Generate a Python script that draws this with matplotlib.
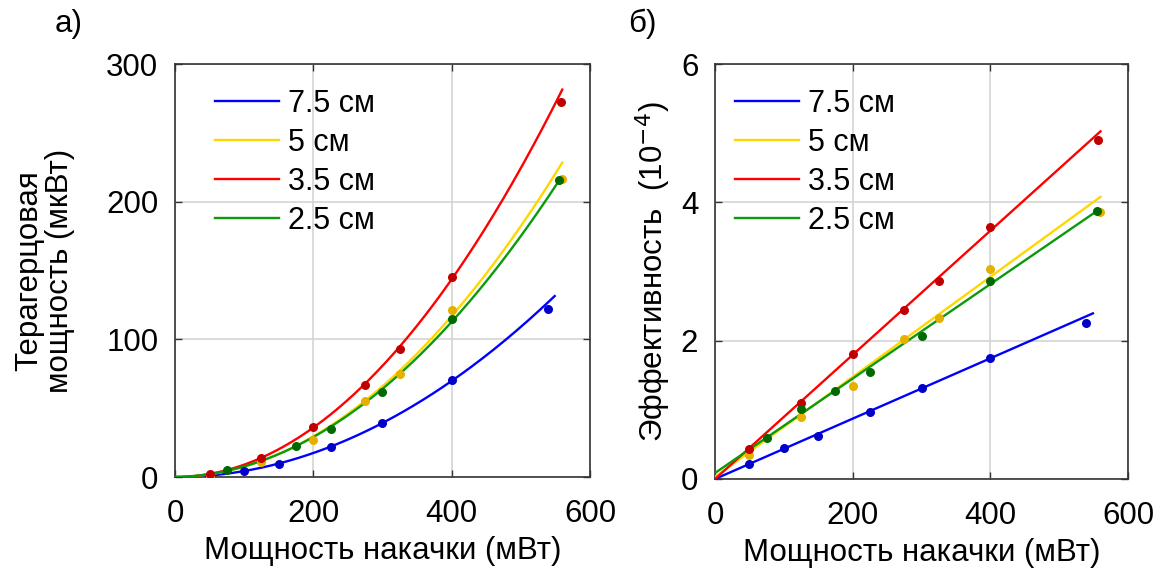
import numpy as np
import matplotlib.pyplot as plt

plt.rcParams["font.family"] = ["Liberation Sans", "DejaVu Sans"]

labels = ["7.5 см", "5 см", "3.5 см", "2.5 см"]
line_colors = ["#0000ff", "#ffd700", "#ff0000", "#0a9a0a"]
dot_colors = ["#0000c8", "#e6b000", "#c00000", "#006a00"]

# измеренная ТГц мощность (мкВт) от мощности накачки (мВт)
pump_75 = [50, 100, 150, 225, 300, 400, 539]
thz_75 = [0.5, 4.5, 9.5, 21.8, 39.5, 70.3, 122]
pump_5 = [50, 125, 200, 275, 325, 400, 560]
thz_5 = [1.0, 11, 27, 55.5, 75, 121, 216.5]
pump_35 = [50, 125, 200, 275, 325, 400, 558]
thz_35 = [2.4, 13.8, 36, 67, 93, 145.5, 272.5]
pump_25 = [75, 175, 225, 300, 400, 555]
thz_25 = [5.3, 22.5, 34.7, 62, 114.7, 215.5]

# эффективность (10^-4)
eff_pump_75 = [50, 100, 150, 225, 300, 400, 539]
eff_75 = [0.216, 0.447, 0.625, 0.966, 1.313, 1.755, 2.255]
eff_pump_5 = [50, 125, 200, 275, 325, 400, 560]
eff_5 = [0.346, 0.899, 1.351, 2.024, 2.322, 3.029, 3.866]
eff_pump_35 = [50, 125, 200, 275, 325, 400, 557]
eff_35 = [0.433, 1.096, 1.808, 2.438, 2.866, 3.644, 4.895]
eff_pump_25 = [75, 125, 175, 225, 300, 400, 555]
eff_25 = [0.591, 1.01, 1.269, 1.548, 2.067, 2.861, 3.88]

# линейная аппроксимация эффективности: наклон (1/мВт), смещение, предел по накачке
fit_slope = [0.004362, 0.00723, 0.008975, 0.006826]
fit_offset = [0.0, 0.03, 0.0, 0.087]
fit_xmax = [549, 560, 560, 557]

pump_sets = [pump_75, pump_5, pump_35, pump_25]
thz_sets = [thz_75, thz_5, thz_35, thz_25]
eff_pump_sets = [eff_pump_75, eff_pump_5, eff_pump_35, eff_pump_25]
eff_sets = [eff_75, eff_5, eff_35, eff_25]

FS = 22.5

fig = plt.figure(figsize=(11.71, 5.72), dpi=100)
ax1 = fig.add_axes([0.1494, 0.166, 0.3544, 0.722])
ax2 = fig.add_axes([0.6106, 0.1626, 0.3527, 0.7255])

for i in range(4):
    xs = np.linspace(0, fit_xmax[i], 200)
    eff_fit = fit_slope[i] * xs + fit_offset[i]
    # мощность = накачка * эффективность
    ax1.plot(xs, xs * eff_fit * 0.1, color=line_colors[i], lw=1.7, label=labels[i], zorder=3)
    ax1.scatter(pump_sets[i], thz_sets[i], s=30, color=dot_colors[i], zorder=4)
    ax2.plot(xs, eff_fit, color=line_colors[i], lw=1.7, label=labels[i], zorder=3)
    ax2.scatter(eff_pump_sets[i], eff_sets[i], s=30, color=dot_colors[i], zorder=4)

for ax, lx in ((ax1, 0.067), (ax2, 0.019)):
    ax.set_xlim(0, 600)
    ax.set_xticks([0, 200, 400, 600])
    ax.grid(True, color="#d4d4d4", lw=1.2, zorder=0)
    ax.set_axisbelow(True)
    ax.tick_params(direction="in", length=5, width=1, color="#333333",
                   top=True, right=True, labelsize=FS)
    ax.tick_params(axis="x", pad=16)
    ax.tick_params(axis="y", pad=12)
    for s in ax.spines.values():
        s.set_color("#333333")
        s.set_linewidth(1.2)
    ax.set_xlabel("Мощность накачки (мВт)", fontsize=FS, labelpad=5)
    ax.legend(loc="upper left", frameon=False, fontsize=22, handlelength=2.1,
              handletextpad=0.28, labelspacing=0.3,
              bbox_to_anchor=(lx, 0.97), borderaxespad=0)

ax1.set_ylim(0, 300)
ax1.set_yticks([0, 100, 200, 300])
ax1.set_ylabel("Терагерцовая\nмощность (мкВт)", fontsize=FS, labelpad=22, linespacing=1.05)
ax2.set_ylim(0, 6)
ax2.set_yticks([0, 2, 4, 6])
ax2.set_ylabel("Эффективность  (10$^{-4}$)", fontsize=FS, labelpad=6)

fig.text(0.047, 0.958, "а)", fontsize=FS, va="center")
fig.text(0.536, 0.958, "б)", fontsize=FS, va="center")

fig.savefig("out.png", dpi=100)
